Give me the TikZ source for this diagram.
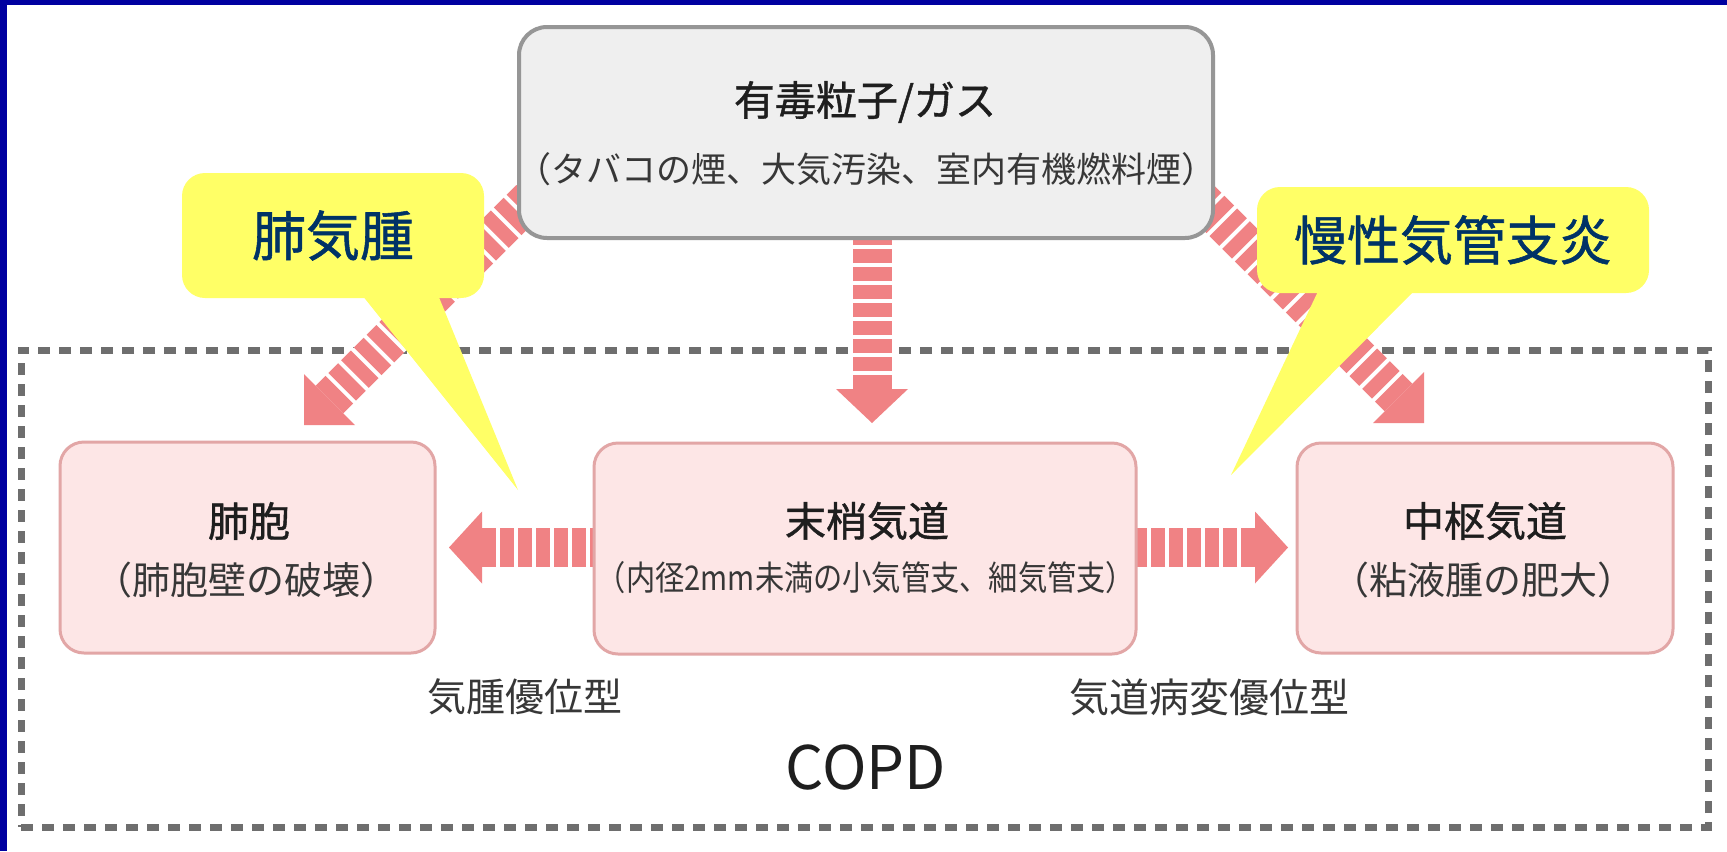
\documentclass[tikz,border=0pt]{standalone}
\usepackage{fontspec}
\setmainfont{Noto Sans CJK JP}
\newfontfamily\jpb[FakeBold=1]{Noto Sans CJK JP}
\newcommand{\setfs}[1]{\fontsize{#1}{#1}\selectfont}
\definecolor{bordblue}{RGB}{0,0,160}
\definecolor{calloutyellow}{RGB}{255,255,102}
\definecolor{navytext}{RGB}{0,51,102}
\definecolor{arrowpink}{RGB}{240,130,132}
\definecolor{pinkfill}{RGB}{253,230,230}
\definecolor{pinkline}{RGB}{226,166,166}
\definecolor{grayfill}{RGB}{239,239,239}
\definecolor{grayline}{RGB}{150,150,150}
\definecolor{dashgray}{RGB}{110,110,110}
\definecolor{titletext}{RGB}{30,30,30}
\definecolor{subtext}{RGB}{55,55,55}
\tikzset{
  pinkbox/.style={draw=pinkline, fill=pinkfill, line width=1.5pt, rounded corners=12pt, inner sep=0pt},
  graybox/.style={draw=grayline, fill=grayfill, line width=2pt, rounded corners=14pt, inner sep=0pt},
  copdframe/.style={draw=dashgray, line width=3.5pt, dash pattern=on 6pt off 4.5pt, inner sep=0pt},
  shaftbase/.style={draw=white, line width=19.5pt},
  shaft/.style={draw=arrowpink, line width=19.5pt, dash pattern=on 6.9pt off 2.1pt},
  headfill/.style={fill=arrowpink},
  boxtitle/.style={inner sep=0pt, text=titletext, font=\jpb\setfs{20.5pt}},
  boxsub/.style={inner sep=0pt, text=subtext, font=\setfs{19pt}},
  callout/.style={fill=calloutyellow, rounded corners=11.5pt, inner sep=0pt, text=navytext, font=\jpb\setfs{27pt}},
  calloutptr/.style={fill=calloutyellow},
  typelabel/.style={inner sep=0pt, text=subtext, font=\setfs{19.5pt}},
}
\begin{document}
\begin{tikzpicture}[x=0.5pt,y=-0.5pt]
\useasboundingbox (0,0) rectangle (1727,851);
\fill[white] (0,0) rectangle (1727,851);
\fill[bordblue] (0,0) rectangle (1727,5);
\fill[bordblue] (0,0) rectangle (7,851);

% COPD frame
\node[copdframe, minimum width=843.5pt, minimum height=238.5pt] (frame) at (864.5,588.5) {};

% arrow geometry
\coordinate (dLb) at (329.5,399.5); \coordinate (dLs) at (534.5,194.5); \coordinate (dLt) at (304,425);
\coordinate (dRb) at (1398.5,397.5); \coordinate (dRs) at (1193.5,192.5); \coordinate (dRt) at (1424,423);
\coordinate (cB) at (872,389); \coordinate (cS) at (872,200); \coordinate (cT) at (872,423);
\coordinate (hLb) at (482,547.5); \coordinate (hLs) at (600,547.5); \coordinate (hLt) at (449,547.5);
\coordinate (hRb) at (1255,547.5); \coordinate (hRs) at (1130,547.5); \coordinate (hRt) at (1288,547.5);

\foreach \b/\s in {dLb/dLs, dRb/dRs, cB/cS, hLb/hLs, hRb/hRs}{
  \draw[shaftbase] (\b) -- (\s);
  \draw[shaft] (\b) -- (\s);
}
\fill[headfill] (dLt) -- ++(51,0) -- ++(-51,-51) -- cycle;
\fill[headfill] (dRt) -- ++(-51,0) -- ++(51,-51) -- cycle;
\fill[headfill] (cT) -- ++(-36,-34) -- ++(72,0) -- cycle;
\fill[headfill] (hLt) -- ++(33,-36) -- ++(0,72) -- cycle;
\fill[headfill] (hRt) -- ++(-33,-36) -- ++(0,72) -- cycle;

% boxes
\node[graybox, minimum width=347pt, minimum height=105.5pt] (top) at (866,132.5) {};
\node[pinkbox, minimum width=187.5pt, minimum height=105.5pt] (alv) at (247.5,547.5) {};
\node[pinkbox, minimum width=271pt, minimum height=105.5pt] (per) at (865,548.5) {};
\node[pinkbox, minimum width=188pt, minimum height=105pt] (cen) at (1485,548) {};

% texts
\node[boxtitle] (toptitle) at (865,102) {有毒粒子/ガス};
\node[boxsub, font=\setfs{17.5pt}] (topsub) at (866,169) {（タバコの煙、大気汚染、室内有機燃料煙）};
\node[boxtitle] (alvtitle) at (249,521) {肺胞};
\node[boxsub] (alvsub) at (246.5,580) {（肺胞壁の破壊）};
\node[boxtitle] (pertitle) at (867,521) {末梢気道};
\node[boxsub, font=\setfs{17pt}] (persub) at (866,578) {\scalebox{0.86}[1]{（内径2mm未満の小気管支、細気管支）}};
\node[boxtitle] (centitle) at (1485,521) {中枢気道};
\node[boxsub] (censub) at (1483,580) {（粘液腫の肥大）};

\node[typelabel] (emph) at (524.5,697) {気腫優位型};
\node[typelabel, font=\setfs{20pt}] (airw) at (1209,697) {気道病変優位型};
\node[inner sep=0pt, text=titletext, font=\setfs{30pt}] (copd) at (866,767) {COPD};

% callouts
\fill[calloutptr] (358,290) -- (436,290) -- (518,490) -- cycle;
\node[callout, minimum width=151pt, minimum height=62.5pt] (calA) at (333,235.5) {肺気腫};
\fill[calloutptr] (1321,285) -- (1420,285) -- (1231,475) -- cycle;
\node[callout, font=\jpb\setfs{26.5pt}, minimum width=196pt, minimum height=53pt] (calB) at (1453,240) {慢性気管支炎};
\end{tikzpicture}
\end{document}
